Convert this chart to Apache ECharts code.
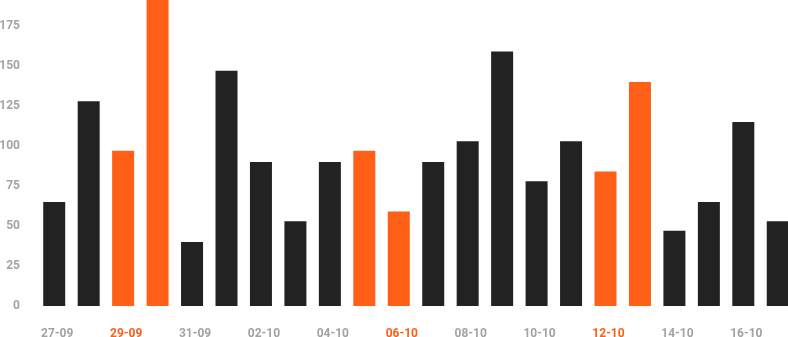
<!DOCTYPE html>
<html>
<head>
<meta charset="utf-8">
<script src="https://cdn.jsdelivr.net/npm/echarts@6/dist/echarts.min.js"></script>
<style>html,body{margin:0;padding:0;background:#fff;overflow:hidden;width:788px;height:337px;}#c{width:795px;height:353px;margin-top:-14px;}</style>
</head>
<body>
<div id="c"></div>
<script>
const categories = ["27-09","28-09","29-09","30-09","31-09","01-10","02-10","03-10","04-10","05-10","06-10","07-10","08-10","09-10","10-10","11-10","12-10","13-10","14-10","15-10","16-10","17-10"];
const values = [65,128,97,195,40,147,90,53,90,97,59,90,103,159,78,103,84,140,47,65,115,53];
const weekend = [false,false,true,true,false,false,false,false,false,true,true,false,false,false,false,false,true,true,false,false,false,false];
const yTicks = [0,25,50,75,100,125,150,175];

const DARK = '#222222', ORANGE = '#ff5f17', GRAY = '#a3a3a3';
const chart = echarts.init(document.getElementById('c'), null, {renderer:'canvas', width: 795, height: 353});
const gridOpt = {left: 37, right: 0, top: 0, bottom: 33, containLabel: false, outerBoundsMode: 'none'};
chart.setOption({
  animation: false,
  grid: gridOpt,
  xAxis: {
    type: 'category', data: categories,
    axisLine: {show: false}, axisTick: {show: false},
    axisLabel: {
      interval: 1, margin: 22, padding: [0, 0, 0, 6],
      fontFamily: 'Roboto', fontWeight: 'bold', fontSize: 12,
      color: function (v, i) { return weekend[categories.indexOf(v)] ? ORANGE : GRAY; }
    }
  },
  yAxis: {
    type: 'value', min: 0, max: 200, interval: 25,
    splitLine: {show: false}, axisLine: {show: false}, axisTick: {show: false},
    axisLabel: {
      margin: 17, fontFamily: 'Roboto', fontWeight: 'bold', fontSize: 12, color: GRAY,
      formatter: function (v) { return yTicks.indexOf(v) >= 0 ? String(v) : ''; }
    }
  },
  series: [{
    type: 'bar', barWidth: 22, clip: true,
    data: values.map((v, i) => ({value: v, itemStyle: {color: weekend[i] ? ORANGE : DARK}}))
  }]
});
// safety: if the grid got pushed by automatic bounds, correct left edge
const p0 = chart.convertToPixel({xAxisIndex: 0}, 0);
const p1 = chart.convertToPixel({xAxisIndex: 0}, 1);
const gridLeft = p0 - (p1 - p0) / 2;
if (Math.abs(gridLeft - 37) > 0.5) {
  chart.setOption({grid: {left: 37 - (gridLeft - 37)}});
}
</script>
</body>
</html>
